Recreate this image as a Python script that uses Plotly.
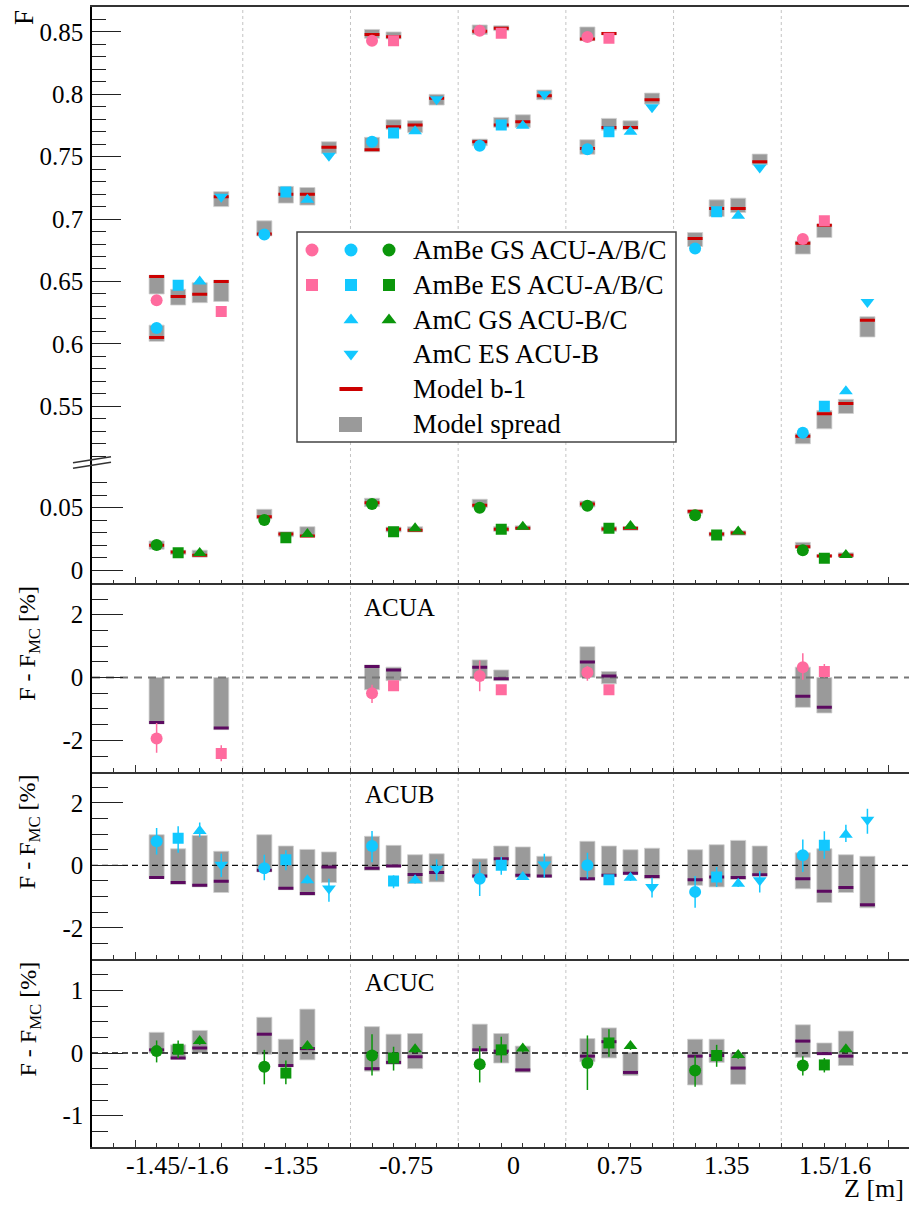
import numpy as np
import plotly.graph_objects as go

# ---------------- categories ----------------
groups = ["-1.45/-1.6", "-1.35", "-0.75", "0", "0.75", "1.35", "1.5/1.6"]
label_pos = [1.95, 7.25, 12.6, 17.55, 22.5, 27.5, 32.5]

# ---------------- ACU-A (pink) ----------------
A_GS_grp = [0, 2, 3, 4, 6]
A_GS_slot = [1, 1, 1, 1, 1]
A_GS_F = [0.635, 0.843, 0.851, 0.846, 0.684]
A_GS_mod = [0.654, 0.848, 0.8505, 0.8444, 0.6807]
A_GS_lo = [0.640, 0.845, 0.848, 0.843, 0.672]
A_GS_hi = [0.655, 0.852, 0.8556, 0.854, 0.6825]
A_GS_r = [-1.94, -0.50, 0.05, 0.16, 0.33]
A_GS_eu = [0.49, 0.27, 0.49, 0.21, 0.44]
A_GS_ed = [0.46, 0.31, 0.49, 0.26, 0.40]
A_GS_rmod = [-1.43, 0.35, 0.33, 0.49, -0.60]
A_GS_rlo = [-1.48, -0.39, -0.02, 0.00, -0.95]
A_GS_rhi = [0.00, 0.40, 0.56, 0.98, 0.33]

A_ES_grp = [0, 2, 3, 4, 6]
A_ES_slot = [4, 2, 2, 2, 2]
A_ES_F = [0.626, 0.843, 0.849, 0.845, 0.6986]
A_ES_mod = [0.650, 0.8462, 0.853, 0.8487, 0.6951]
A_ES_lo = [0.634, 0.8444, 0.851, 0.8476, 0.6852]
A_ES_hi = [0.651, 0.850, 0.855, 0.8497, 0.6959]
A_ES_r = [-2.42, -0.26, -0.39, -0.39, 0.19]
A_ES_eu = [0.26, 0.08, 0.08, 0.08, 0.24]
A_ES_ed = [0.25, 0.08, 0.08, 0.08, 0.19]
A_ES_rmod = [-1.61, 0.24, -0.04, 0.05, -0.95]
A_ES_rlo = [-1.66, -0.10, -0.10, -0.20, -1.13]
A_ES_rhi = [0.00, 0.33, 0.24, 0.19, 0.00]

# ---------------- ACU-B (cyan) ----------------
B_GS_grp = [0, 1, 2, 3, 4, 5, 6]
B_GS_slot = [1, 1, 1, 1, 1, 1, 1]
B_GS_F = [0.6127, 0.6876, 0.762, 0.7588, 0.756, 0.6764, 0.5287]
B_GS_mod = [0.605, 0.688, 0.7556, 0.762, 0.7565, 0.6844, 0.526]
B_GS_lo = [0.602, 0.6865, 0.754, 0.7588, 0.752, 0.678, 0.5199]
B_GS_hi = [0.615, 0.6986, 0.7655, 0.7641, 0.7636, 0.6892, 0.5282]
B_GS_r = [0.77, -0.09, 0.62, -0.43, 0.00, -0.85, 0.32]
B_GS_eu = [0.43, 0.43, 0.48, 0.54, 0.40, 0.51, 0.51]
B_GS_ed = [0.42, 0.39, 0.52, 0.55, 0.43, 0.51, 0.53]
B_GS_rmod = [-0.39, -0.16, -0.09, -0.34, -0.43, -0.46, -0.43]
B_GS_rlo = [-0.42, -0.21, -0.16, -0.40, -0.48, -0.64, -0.75]
B_GS_rhi = [0.98, 0.98, 0.93, 0.21, 0.77, 0.50, 0.40]

B_ES_grp = [0, 1, 2, 3, 4, 5, 6]
B_ES_slot = [2, 2, 2, 2, 2, 2, 2]
B_ES_F = [0.647, 0.7218, 0.769, 0.7754, 0.770, 0.7058, 0.550]
B_ES_mod = [0.638, 0.720, 0.774, 0.7754, 0.7735, 0.7085, 0.544]
B_ES_lo = [0.6311, 0.7128, 0.772, 0.7735, 0.7713, 0.7021, 0.5319]
B_ES_hi = [0.6437, 0.7262, 0.7796, 0.7815, 0.7807, 0.7154, 0.5466]
B_ES_r = [0.87, 0.18, -0.50, 0.00, -0.46, -0.37, 0.64]
B_ES_eu = [0.38, 0.30, 0.18, 0.27, 0.15, 0.32, 0.45]
B_ES_ed = [0.47, 0.34, 0.23, 0.30, 0.15, 0.32, 0.43]
B_ES_rmod = [-0.55, -0.73, -0.02, 0.21, -0.32, -0.37, -0.83]
B_ES_rlo = [-0.61, -0.78, -0.05, -0.02, -0.37, -0.69, -1.19]
B_ES_rhi = [0.53, 0.62, 0.64, 0.62, 0.62, 0.66, 0.53]

B_CGS_grp = [0, 1, 2, 3, 4, 5, 6]
B_CGS_slot = [3, 3, 3, 3, 3, 3, 3]
B_CGS_F = [0.650, 0.7154, 0.7705, 0.7748, 0.770, 0.7026, 0.5621]
B_CGS_mod = [0.6397, 0.720, 0.7754, 0.778, 0.7735, 0.7085, 0.5522]
B_CGS_lo = [0.633, 0.7112, 0.7695, 0.7735, 0.7716, 0.7053, 0.5442]
B_CGS_hi = [0.649, 0.7253, 0.7788, 0.7836, 0.7788, 0.7168, 0.5555]
B_CGS_r = [1.10, -0.48, -0.48, -0.37, -0.40, -0.59, 0.98]
B_CGS_eu = [0.27, 0.10, 0.10, 0.10, 0.10, 0.10, 0.32]
B_CGS_ed = [0.20, 0.10, 0.10, 0.10, 0.10, 0.10, 0.23]
B_CGS_rmod = [-0.64, -0.90, -0.29, -0.32, -0.25, -0.39, -0.71]
B_CGS_rlo = [-0.69, -0.96, -0.58, -0.39, -0.30, -0.45, -0.87]
B_CGS_rhi = [0.96, 0.51, 0.34, 0.59, 0.50, 0.80, 0.34]

B_CES_grp = [0, 1, 2, 3, 4, 5, 6]
B_CES_slot = [4, 4, 4, 4, 4, 4, 4]
B_CES_F = [0.718, 0.7507, 0.796, 0.800, 0.7896, 0.7414, 0.6335]
B_CES_mod = [0.718, 0.7575, 0.7968, 0.7989, 0.7957, 0.7459, 0.619]
B_CES_lo = [0.710, 0.7527, 0.7914, 0.7957, 0.7922, 0.7435, 0.6055]
B_CES_hi = [0.722, 0.762, 0.800, 0.8035, 0.801, 0.7521, 0.6218]
B_CES_r = [0.02, -0.74, -0.11, 0.03, -0.69, -0.48, 1.46]
B_CES_eu = [0.35, 0.31, 0.30, 0.34, 0.29, 0.29, 0.35]
B_CES_ed = [0.39, 0.43, 0.37, 0.43, 0.34, 0.39, 0.45]
B_CES_rmod = [-0.51, -0.05, -0.23, -0.34, -0.36, -0.30, -1.26]
B_CES_rlo = [-0.87, -0.55, -0.53, -0.39, -0.43, -0.34, -1.36]
B_CES_rhi = [0.45, 0.43, 0.37, 0.29, 0.55, 0.62, 0.29]

# ---------------- ACU-C (green) ----------------
C_GS_grp = [0, 1, 2, 3, 4, 5, 6]
C_GS_slot = [1, 1, 1, 1, 1, 1, 1]
C_GS_F = [0.0202, 0.0402, 0.053, 0.050, 0.0516, 0.0439, 0.0159]
C_GS_mod = [0.020, 0.0428, 0.054, 0.0519, 0.053, 0.0471, 0.0188]
C_GS_lo = [0.0168, 0.041, 0.0508, 0.050, 0.0505, 0.045, 0.0175]
C_GS_hi = [0.0234, 0.0487, 0.0575, 0.0567, 0.0553, 0.0482, 0.0223]
C_GS_r = [0.03, -0.22, -0.04, -0.18, -0.16, -0.28, -0.20]
C_GS_eu = [0.17, 0.27, 0.34, 0.29, 0.44, 0.24, 0.15]
C_GS_ed = [0.18, 0.28, 0.32, 0.29, 0.43, 0.26, 0.16]
C_GS_rmod = [0.05, 0.30, -0.25, 0.05, -0.05, -0.05, 0.19]
C_GS_rlo = [0.00, -0.02, -0.29, 0.03, -0.14, -0.51, -0.07]
C_GS_rhi = [0.33, 0.57, 0.42, 0.46, 0.23, 0.22, 0.45]

C_ES_grp = [0, 1, 2, 3, 4, 5, 6]
C_ES_slot = [2, 2, 2, 2, 2, 2, 2]
C_ES_F = [0.014, 0.026, 0.0308, 0.0327, 0.0335, 0.0282, 0.0097]
C_ES_mod = [0.0145, 0.029, 0.0327, 0.0327, 0.033, 0.029, 0.0114]
C_ES_lo = [0.0125, 0.0268, 0.0305, 0.031, 0.031, 0.027, 0.0105]
C_ES_hi = [0.016, 0.0308, 0.0345, 0.035, 0.035, 0.0305, 0.0125]
C_ES_r = [0.06, -0.32, -0.08, 0.05, 0.16, -0.04, -0.19]
C_ES_eu = [0.14, 0.20, 0.18, 0.21, 0.22, 0.17, 0.11]
C_ES_ed = [0.14, 0.18, 0.20, 0.20, 0.22, 0.18, 0.12]
C_ES_rmod = [-0.08, -0.20, -0.15, 0.03, 0.18, -0.04, -0.01]
C_ES_rlo = [-0.10, -0.22, -0.18, -0.16, -0.08, -0.15, -0.02]
C_ES_rhi = [0.13, 0.22, 0.30, 0.31, 0.40, 0.22, 0.16]

C_CGS_grp = [0, 1, 2, 3, 4, 5, 6]
C_CGS_slot = [3, 3, 3, 3, 3, 3, 3]
C_CGS_F = [0.0137, 0.029, 0.0335, 0.0348, 0.0354, 0.031, 0.0122]
C_CGS_mod = [0.012, 0.0274, 0.032, 0.0335, 0.0335, 0.0297, 0.012]
C_CGS_lo = [0.0105, 0.0264, 0.0305, 0.0325, 0.032, 0.028, 0.0105]
C_CGS_hi = [0.016, 0.0348, 0.0348, 0.0355, 0.035, 0.0315, 0.014]
C_CGS_r = [0.19, 0.11, 0.06, 0.07, 0.11, -0.03, 0.06]
C_CGS_eu = [0.06, 0.06, 0.06, 0.06, 0.06, 0.06, 0.06]
C_CGS_ed = [0.06, 0.06, 0.06, 0.06, 0.06, 0.06, 0.06]
C_CGS_rmod = [0.08, 0.07, -0.06, -0.27, -0.31, -0.24, -0.05]
C_CGS_rlo = [0.00, -0.11, -0.25, -0.31, -0.36, -0.50, -0.20]
C_CGS_rhi = [0.36, 0.70, 0.31, 0.11, 0.01, 0.00, 0.35]

legend_labels = ["AmBe GS ACU-A/B/C", "AmBe ES ACU-A/B/C", "AmC GS ACU-B/C",
                 "AmC ES ACU-B", "Model b-1", "Model spread"]

# ---------------- styles ----------------
PINK, CYAN, GREEN = "#ff6b9e", "#12c8ff", "#0b960b"
RED, PURPLE, GRAY = "#cc0000", "#5c0a60", "#9a9a9a"
FONT = "Liberation Serif, Times New Roman, DejaVu Serif, serif"

# pixel geometry helpers (layout only)
L, R, T, B = 92, 909, 7, 1147
def px2x(p): return (p - L) / (R - L)
def px2y(p): return (B - p) / (B - T)

series = [
    (A_GS_grp, A_GS_slot, A_GS_F, A_GS_mod, A_GS_lo, A_GS_hi, A_GS_r, A_GS_eu, A_GS_ed, A_GS_rmod, A_GS_rlo, A_GS_rhi, PINK, "circle", "y", "y3"),
    (A_ES_grp, A_ES_slot, A_ES_F, A_ES_mod, A_ES_lo, A_ES_hi, A_ES_r, A_ES_eu, A_ES_ed, A_ES_rmod, A_ES_rlo, A_ES_rhi, PINK, "square", "y", "y3"),
    (B_GS_grp, B_GS_slot, B_GS_F, B_GS_mod, B_GS_lo, B_GS_hi, B_GS_r, B_GS_eu, B_GS_ed, B_GS_rmod, B_GS_rlo, B_GS_rhi, CYAN, "circle", "y", "y4"),
    (B_ES_grp, B_ES_slot, B_ES_F, B_ES_mod, B_ES_lo, B_ES_hi, B_ES_r, B_ES_eu, B_ES_ed, B_ES_rmod, B_ES_rlo, B_ES_rhi, CYAN, "square", "y", "y4"),
    (B_CGS_grp, B_CGS_slot, B_CGS_F, B_CGS_mod, B_CGS_lo, B_CGS_hi, B_CGS_r, B_CGS_eu, B_CGS_ed, B_CGS_rmod, B_CGS_rlo, B_CGS_rhi, CYAN, "triangle-up", "y", "y4"),
    (B_CES_grp, B_CES_slot, B_CES_F, B_CES_mod, B_CES_lo, B_CES_hi, B_CES_r, B_CES_eu, B_CES_ed, B_CES_rmod, B_CES_rlo, B_CES_rhi, CYAN, "triangle-down", "y", "y4"),
    (C_GS_grp, C_GS_slot, C_GS_F, C_GS_mod, C_GS_lo, C_GS_hi, C_GS_r, C_GS_eu, C_GS_ed, C_GS_rmod, C_GS_rlo, C_GS_rhi, GREEN, "circle", "y2", "y5"),
    (C_ES_grp, C_ES_slot, C_ES_F, C_ES_mod, C_ES_lo, C_ES_hi, C_ES_r, C_ES_eu, C_ES_ed, C_ES_rmod, C_ES_rlo, C_ES_rhi, GREEN, "square", "y2", "y5"),
    (C_CGS_grp, C_CGS_slot, C_CGS_F, C_CGS_mod, C_CGS_lo, C_CGS_hi, C_CGS_r, C_CGS_eu, C_CGS_ed, C_CGS_rmod, C_CGS_rlo, C_CGS_rhi, GREEN, "triangle-up", "y2", "y5"),
]
SIZES = {"circle": 12, "square": 11, "triangle-up": 12, "triangle-down": 12}
XAX = {"y": "x", "y2": "x2", "y3": "x3", "y4": "x4", "y5": "x5"}
LINE_EW = 10.7   # line-ew marker is 1.4*size px long -> ~15 px, same as the box width

fig = go.Figure()

def xs_of(grp, slot):
    return [5 * g + s for g, s in zip(grp, slot)]

# boxes (model spread)
for s in series:
    grp, slot, F, mod, lo, hi, r, eu, ed, rmod, rlo, rhi, col, sym, ya, yr = s
    xs = xs_of(grp, slot)
    fig.add_trace(go.Bar(x=xs, y=[h - l for h, l in zip(hi, lo)], base=lo, width=0.7,
                         marker=dict(color=GRAY, line=dict(width=0.8, color="#cfcfcf")),
                         xaxis=XAX[ya], yaxis=ya, hoverinfo="skip"))
    fig.add_trace(go.Bar(x=xs, y=[h - l for h, l in zip(rhi, rlo)], base=rlo, width=0.7,
                         marker=dict(color=GRAY, line=dict(width=0.8, color="#cfcfcf")),
                         xaxis=XAX[yr], yaxis=yr, hoverinfo="skip"))

# zero lines in residual panels
for ya, col, w, dash in [("y3", "#777777", 2.2, "8px,6px"), ("y4", "#111111", 1.3, "6px,4px"), ("y5", "#111111", 1.3, "6px,4px")]:
    fig.add_trace(go.Scatter(x=[-2, 36], y=[0, 0], mode="lines", line=dict(color=col, width=w, dash=dash),
                             xaxis=XAX[ya], yaxis=ya, hoverinfo="skip"))

# model b-1 lines
for s in series:
    grp, slot, F, mod, lo, hi, r, eu, ed, rmod, rlo, rhi, col, sym, ya, yr = s
    xs = xs_of(grp, slot)
    fig.add_trace(go.Scatter(x=xs, y=mod, mode="markers",
                             marker=dict(symbol="line-ew", size=LINE_EW, line=dict(width=3, color=RED)),
                             xaxis=XAX[ya], yaxis=ya, hoverinfo="skip"))
    fig.add_trace(go.Scatter(x=xs, y=rmod, mode="markers",
                             marker=dict(symbol="line-ew", size=LINE_EW, line=dict(width=3, color=PURPLE)),
                             xaxis=XAX[yr], yaxis=yr, hoverinfo="skip"))

# data points
for s in series:
    grp, slot, F, mod, lo, hi, r, eu, ed, rmod, rlo, rhi, col, sym, ya, yr = s
    xs = xs_of(grp, slot)
    fig.add_trace(go.Scatter(x=xs, y=F, mode="markers",
                             marker=dict(symbol=sym, size=SIZES[sym], color=col, line=dict(width=0)),
                             xaxis=XAX[ya], yaxis=ya))
    fig.add_trace(go.Scatter(x=xs, y=r, mode="markers",
                             marker=dict(symbol=sym, size=SIZES[sym], color=col, line=dict(width=0)),
                             error_y=dict(type="data", symmetric=False, array=eu, arrayminus=ed,
                                          thickness=1.5, width=0, color=col),
                             xaxis=XAX[yr], yaxis=yr))

# ---------------- legend (drawn manually) ----------------
leg_rows = [250, 285, 320, 354, 389, 424]
leg_cols = [312, 351, 389]
leg_items = [  # (row, col, color, symbol)
    (0, 0, PINK, "circle"), (0, 1, CYAN, "circle"), (0, 2, GREEN, "circle"),
    (1, 0, PINK, "square"), (1, 1, CYAN, "square"), (1, 2, GREEN, "square"),
    (2, 1, CYAN, "triangle-up"), (2, 2, GREEN, "triangle-up"),
    (3, 1, CYAN, "triangle-down"),
]
for ri, ci, col, sym in leg_items:
    fig.add_trace(go.Scatter(x=[leg_cols[ci]], y=[leg_rows[ri]], mode="markers",
                             marker=dict(symbol=sym, size=SIZES[sym] + 1, color=col),
                             xaxis="x6", yaxis="y6", hoverinfo="skip"))
fig.add_trace(go.Scatter(x=[leg_cols[1]], y=[leg_rows[4]], mode="markers",
                         marker=dict(symbol="line-ew", size=16.5, line=dict(width=4, color=RED)),
                         xaxis="x6", yaxis="y6", hoverinfo="skip"))

shapes = []
# dotted group separators
for k in range(1, 7):
    shapes.append(dict(type="line", xref="x", yref="paper", x0=5 * k, x1=5 * k, y0=0, y1=1,
                       line=dict(color="#c4c4c4", width=1, dash="dot"), layer="below"))
# legend box
shapes.append(dict(type="rect", xref="x6", yref="y6", x0=297, x1=676, y0=232, y1=442,
                   fillcolor="white", line=dict(color="#444444", width=1.5), layer="below"))
shapes.append(dict(type="rect", xref="x6", yref="y6", x0=339, x1=362, y0=417, y1=432,
                   fillcolor=GRAY, line=dict(width=0), layer="below"))
# axis break marks
shapes.append(dict(type="line", xref="paper", yref="paper", x0=px2x(73), x1=px2x(111),
                   y0=px2y(462.7), y1=px2y(456.7), line=dict(color="#333", width=1.5)))
shapes.append(dict(type="line", xref="paper", yref="paper", x0=px2x(73), x1=px2x(111),
                   y0=px2y(468.3), y1=px2y(462.3), line=dict(color="#333", width=1.5)))
fig.update_layout(shapes=shapes)

annotations = []
for lab, p in zip(groups, label_pos):
    annotations.append(dict(text=lab, x=p, xref="x5", y=px2y(1165), yref="paper",
                            showarrow=False, xanchor="center", yanchor="middle",
                            font=dict(family=FONT, size=26, color="black")))
annotations.append(dict(text="Z [m]", x=px2x(906), y=px2y(1189), xref="paper", yref="paper",
                        showarrow=False, xanchor="right", yanchor="middle",
                        font=dict(family=FONT, size=26, color="black")))
annotations.append(dict(text="F", x=px2x(23.5), y=px2y(8), xref="paper", yref="paper",
                        showarrow=False, xanchor="center", yanchor="top", textangle=-90,
                        font=dict(family=FONT, size=27, color="black")))
for top in [583.3, 771.7, 959]:
    annotations.append(dict(text="F - F<sub>MC</sub> [%]", x=px2x(29), y=px2y(top + 1),
                            xref="paper", yref="paper", showarrow=False, xanchor="center",
                            yanchor="top", textangle=-90,
                            font=dict(family=FONT, size=24, color="black")))
for txt, cy in [("ACUA", 607), ("ACUB", 795), ("ACUC", 982)]:
    annotations.append(dict(text=txt, x=px2x(399), y=px2y(cy), xref="paper", yref="paper",
                            showarrow=False, xanchor="center", yanchor="middle",
                            font=dict(family=FONT, size=25, color="black")))
for i, lab in enumerate(legend_labels):
    annotations.append(dict(text=lab, x=411, y=leg_rows[i], xref="x6", yref="y6",
                            showarrow=False, xanchor="left", yanchor="middle",
                            font=dict(family=FONT, size=27, color="black")))
fig.update_layout(annotations=annotations)

# ---------------- axes ----------------
Y_TOP, Y_BRK, Y_P1, Y_P2, Y_P3 = 7.3, 468.6, 583.3, 771.7, 959
XR = [-2, 35.93]
LINEC = "#333333"
tickfont = dict(family=FONT, size=25, color="black")
xminor = dict(tickmode="array", tickvals=list(range(-2, 36)), ticks="inside", ticklen=4,
              tickcolor=LINEC, tickwidth=1)

layout = dict(
    width=909, height=1206, margin=dict(l=L, r=909 - R, t=T, b=1206 - B),
    paper_bgcolor="white", plot_bgcolor="rgba(0,0,0,0)", barmode="overlay",
    showlegend=False, font=dict(family=FONT),
    xaxis=dict(domain=[0, 1], range=XR, anchor="y", side="top", showline=True, linecolor=LINEC,
               linewidth=1.5, ticks="", showticklabels=False, showgrid=False, zeroline=False),
    xaxis6=dict(domain=[0, 1], range=[L, R], anchor="y6", visible=False),
    yaxis6=dict(domain=[0, 1], range=[B, T], anchor="x6", visible=False),
)
for i, ya in zip([2, 3, 4, 5], ["y2", "y3", "y4", "y5"]):
    layout[f"xaxis{i}"] = dict(domain=[0, 1], range=XR, matches="x", anchor=ya, showline=True,
                               linecolor=LINEC, linewidth=1.5, ticks="inside", tickvals=[0, 35],
                               ticklen=7, tickcolor=LINEC, showticklabels=False, minor=xminor,
                               showgrid=False, zeroline=False)

def yax(dom, rng, tv, tt, minor_vals, tl, mtl):
    return dict(domain=dom, range=rng, showline=True, linecolor="black", linewidth=1.5,
                ticks="inside", tickvals=tv, ticktext=tt, ticklen=tl, tickcolor="#222",
                tickwidth=1.3, tickfont=tickfont, showgrid=False, zeroline=False,
                ticklabelstandoff=2,
                minor=dict(tickmode="array", tickvals=minor_vals, ticks="inside", ticklen=mtl,
                           tickcolor="#222", tickwidth=1.3))

up_major = [0.55, 0.6, 0.65, 0.7, 0.75, 0.8, 0.85]
up_text = ["0.55", "0.6", "0.65", "0.7", "0.75", "0.8", "0.85"]
layout["yaxis"] = yax([px2y(Y_BRK), 1], [0.5, 0.87], up_major, up_text,
                      [round(0.51 + 0.01 * k, 2) for k in range(37)], 29, 14)
layout["yaxis"]["anchor"] = "x"
layout["yaxis2"] = yax([px2y(Y_P1), px2y(Y_BRK)], [-0.0104, 0.0812], [0, 0.05], ["0", "0.05"],
                       [0.01, 0.02, 0.03, 0.04, 0.06, 0.07], 31, 15)
layout["yaxis2"]["anchor"] = "x2"
res_minor = [-3 + 0.5 * k for k in range(13)]
layout["yaxis3"] = yax([px2y(Y_P2), px2y(Y_P1)], [-3, 3], [-2, 0, 2], ["-2", "0", "2"], res_minor, 31, 16)
layout["yaxis3"]["anchor"] = "x3"
layout["yaxis4"] = yax([px2y(Y_P3), px2y(Y_P2)], [-3, 3], [-2, 0, 2], ["-2", "0", "2"], res_minor, 31, 16)
layout["yaxis4"]["anchor"] = "x4"
layout["yaxis5"] = yax([0, px2y(Y_P3)], [-1.5, 1.5], [-1, 0, 1], ["-1", "0", "1"],
                       [-1.5 + 0.25 * k for k in range(13)], 31, 16)
layout["yaxis5"]["anchor"] = "x5"

fig.update_layout(**layout)
fig.write_html("out.html")
